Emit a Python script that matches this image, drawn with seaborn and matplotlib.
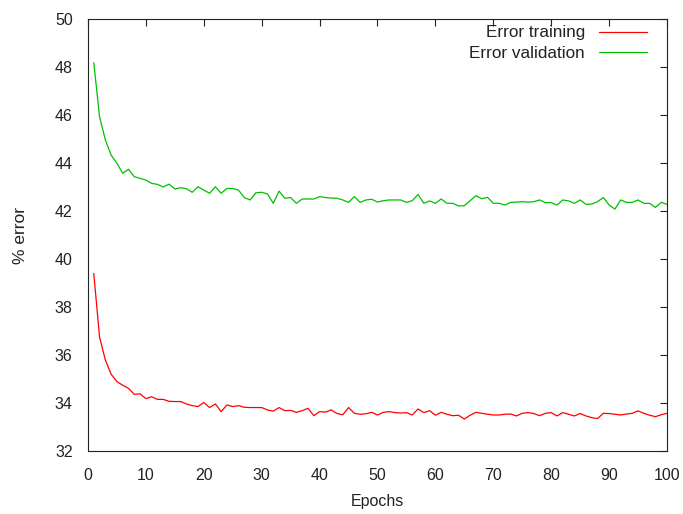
import numpy as np
import pandas as pd
import seaborn as sns
import matplotlib
matplotlib.use("Agg")
import matplotlib.pyplot as plt

# values
epochs = list(range(1, 101))

train_err = [
    39.40, 36.75, 35.79, 35.20, 34.89, 34.74, 34.61, 34.36, 34.38, 34.18,
    34.26, 34.15, 34.15, 34.07, 34.06, 34.06, 33.96, 33.89, 33.85, 34.02,
    33.81, 33.96, 33.64, 33.92, 33.85, 33.89, 33.82, 33.81, 33.81, 33.81,
    33.71, 33.66, 33.81, 33.68, 33.69, 33.61, 33.68, 33.78, 33.47, 33.64,
    33.62, 33.71, 33.56, 33.51, 33.81, 33.57, 33.53, 33.55, 33.61, 33.50,
    33.61, 33.64, 33.60, 33.58, 33.60, 33.50, 33.75, 33.60, 33.68, 33.49,
    33.61, 33.53, 33.47, 33.49, 33.33, 33.49, 33.61, 33.57, 33.53, 33.50,
    33.50, 33.53, 33.54, 33.46, 33.57, 33.60, 33.56, 33.47, 33.57, 33.60,
    33.46, 33.60, 33.53, 33.46, 33.56, 33.46, 33.39, 33.35, 33.57, 33.56,
    33.53, 33.50, 33.54, 33.57, 33.67, 33.57, 33.49, 33.43, 33.51, 33.57,
]

valid_err = [
    48.18, 45.93, 44.96, 44.33, 43.99, 43.57, 43.74, 43.43, 43.36, 43.29,
    43.15, 43.11, 43.00, 43.12, 42.92, 42.97, 42.93, 42.78, 43.01, 42.87,
    42.74, 43.01, 42.74, 42.94, 42.94, 42.87, 42.56, 42.46, 42.76, 42.78,
    42.71, 42.32, 42.83, 42.53, 42.56, 42.32, 42.50, 42.50, 42.50, 42.60,
    42.56, 42.54, 42.53, 42.46, 42.36, 42.60, 42.36, 42.46, 42.49, 42.37,
    42.43, 42.46, 42.46, 42.46, 42.36, 42.43, 42.69, 42.32, 42.42, 42.32,
    42.50, 42.32, 42.32, 42.21, 42.22, 42.43, 42.64, 42.51, 42.57, 42.32,
    42.32, 42.25, 42.36, 42.37, 42.39, 42.37, 42.39, 42.46, 42.35, 42.35,
    42.25, 42.46, 42.42, 42.32, 42.46, 42.28, 42.29, 42.39, 42.56, 42.25,
    42.08, 42.46, 42.36, 42.36, 42.46, 42.32, 42.32, 42.15, 42.36, 42.28,
]

series_names = ["Error training", "Error validation"]
series_colors = ["#ff0000", "#00c000"]

x_ticks = list(range(0, 101, 10))
y_ticks = list(range(32, 51, 2))


def plot_errors():
    sns.set_style("white")
    plt.rcParams["font.family"] = ["Liberation Sans", "DejaVu Sans"]

    df = pd.DataFrame({
        "Epochs": epochs * 2,
        "error": train_err + valid_err,
        "series": [series_names[0]] * len(epochs) + [series_names[1]] * len(epochs),
    })

    fig = plt.figure(figsize=(6.83, 5.14), dpi=100)
    ax = fig.add_axes([0.1288, 0.1226, 0.8478, 0.8404])

    sns.lineplot(data=df, x="Epochs", y="error", hue="series",
                 palette=dict(zip(series_names, series_colors)),
                 linewidth=0.9, ax=ax)

    ax.set_xlim(0, 100)
    ax.set_ylim(32, 50)
    ax.set_xticks(x_ticks)
    ax.set_yticks(y_ticks)
    ax.tick_params(direction="in", length=5, width=0.8, top=True, right=True,
                   labelsize=11.5, colors="#222222")
    ax.tick_params(axis="x", pad=12)
    ax.tick_params(axis="y", pad=11)
    for sp in ax.spines.values():
        sp.set_visible(True)
        sp.set_color("#222222")
        sp.set_linewidth(0.8)

    ax.set_xlabel("Epochs", fontsize=11.5, color="#222222", labelpad=8)
    ax.set_ylabel("% error", fontsize=12.5, color="#222222")
    ax.yaxis.set_label_coords(-0.104, 0.5)

    handles, labels = ax.get_legend_handles_labels()
    ax.legend(handles, labels, loc="upper right", bbox_to_anchor=(0.966, 0.985),
              frameon=False, markerfirst=False, fontsize=12.3,
              handlelength=2.8, handletextpad=0.85, labelspacing=0.32,
              borderpad=0, borderaxespad=0, labelcolor="#222222")

    fig.savefig("out.png", dpi=100)


if __name__ == "__main__":
    plot_errors()
